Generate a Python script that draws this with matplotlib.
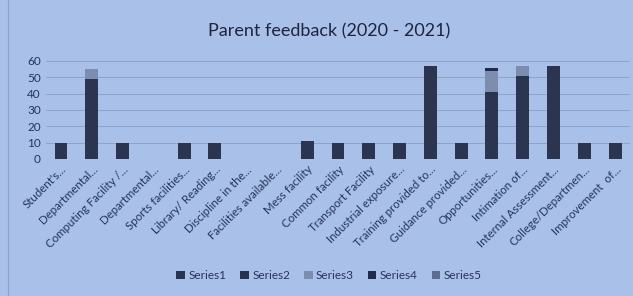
from matplotlib import pyplot as plt
import numpy as np

TITLE = 'Parent feedback (2020 - 2021)'
BG = '#a9c0e8'
TEXT = '#26345a'
GRID = '#8fa2c8'

plt.rcParams['font.family'] = ['Lato', 'DejaVu Sans']

categories = ["Student's...", 'Departmental...', 'Computing Facility /...',
              'Departmental...', 'Sports facilities...', 'Library/ Reading...',
              'Discipline in the...', 'Facilities available...', 'Mess facility',
              'Common facility', 'Transport Facility', 'Industrial exposure...',
              'Training provided to...', 'Guidance provided...', 'Opportunities...',
              'Intimation of...', 'Internal Assessment...', 'College/Departmen...',
              'Improvement  of...']
series1 = [10, 49, 10, 0, 10, 10, 0, 0, 11, 10, 10, 10, 57, 10, 41, 51, 57, 10, 10]
series2 = [0] * 19
series3 = [0, 6, 0, 0, 0, 0, 0, 0, 0, 0, 0, 0, 0, 0, 13, 6, 0, 0, 0]
series4 = [0, 0, 0, 0, 0, 0, 0, 0, 0, 0, 0, 0, 0, 0, 2, 0, 0, 0, 0]
series5 = [0] * 19

names = ['Series1', 'Series2', 'Series3', 'Series4', 'Series5']
colors = ['#2b3550', '#27314f', '#7d8db0', '#1f2a4c', '#5d6c90']

fig = plt.figure(figsize=(6.33, 2.96), dpi=100, facecolor=BG)
ax = fig.add_axes([0.072, 0.463, 0.924, 0.331], facecolor=BG)

x = np.arange(len(categories))
bottom = np.zeros(len(categories))
for name, vals, c in zip(names, [series1, series2, series3, series4, series5], colors):
    ax.bar(x, vals, 0.42, bottom=bottom, color=c, label=name, zorder=3)
    bottom += np.array(vals)

ax.set_xlim(-0.5, len(categories) - 0.5)
ax.set_ylim(0, 60)
ax.set_yticks(range(0, 61, 10))
ax.grid(axis='y', color=GRID, linewidth=0.7, zorder=0)
for s in ax.spines.values():
    s.set_visible(False)
ax.axhline(0, color=GRID, linewidth=0.8, zorder=2)
ax.tick_params(length=0, colors=TEXT, labelsize=8.5)
ax.set_xticks(x)
ax.set_xticklabels(categories, rotation=45, ha='right', rotation_mode='anchor', fontsize=8.3)

fig.text(0.52, 0.895, TITLE, ha='center', va='center', fontsize=13, color='#1d2540')
fig.legend(loc='center', bbox_to_anchor=(0.52, 0.068), ncol=5, frameon=False,
           fontsize=8.5, labelcolor=TEXT, handlelength=0.7, handleheight=0.7,
           columnspacing=1.2, handletextpad=0.3)

fig.add_artist(plt.Line2D([0.013, 0.013], [0.0, 1.0], color=GRID, linewidth=0.8))

plt.savefig('out.png', dpi=100, facecolor=BG)
